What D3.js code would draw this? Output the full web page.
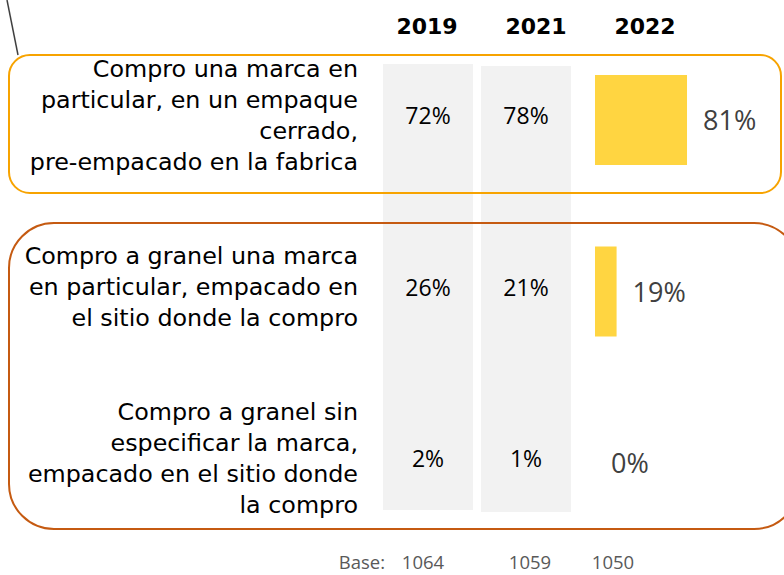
<!DOCTYPE html>
<html>
<head>
<meta charset="utf-8">
<script src="https://cdn.jsdelivr.net/npm/d3@7"></script>
<style>
  body { margin: 0; background: #fff; }
  svg { display: block; }
</style>
</head>
<body>
<div class="plot"></div>
<script>
const W = 784, H = 575;

// Data
const years = ["2019", "2021", "2022"];
const rows = ["marca_empaque", "granel_marca", "granel_sin_marca"];
const rowLines = [
    ["Compro una marca en", "particular, en un empaque", "cerrado,", "pre-empacado en la fabrica"],
    ["Compro a granel una marca", "en particular, empacado en", "el sitio donde la compro"],
    ["Compro a granel sin", "especificar la marca,", "empacado en el sitio donde", "la compro"]
];
const values2019 = [72, 26, 2];
const values2021 = [78, 21, 1];
const values2022 = [81, 19, 0];
const bases = [1064, 1059, 1050];

const svg = d3.select(".plot")
    .append("svg")
        .attr("width", W)
        .attr("height", H);

// Scales
const y = d3.scalePoint()
    .domain(rows)
    .range([120, 463]);

// columns 90px wide, 8px gap
const col = d3.scaleBand()
    .domain(years)
    .range([383, 669])
    .paddingInner(8 / 98);

const header = d3.scalePoint()
    .domain(years)
    .range([427, 645]);

const baseX = d3.scaleOrdinal()
    .domain(years)
    .range([423, 530, 613]);

const barX0 = 595;
const barW = d3.scaleLinear()
    .domain([0, 100])
    .range([0, 113.6]);

const labelFont = "'DejaVu Sans', sans-serif";
const numFont = "'Open Sans', sans-serif";

// Gray background columns for 2019 / 2021
svg.selectAll("rect.colbg")
    .data(years.slice(0, 2))
    .enter()
    .append("rect")
        .attr("class", "colbg")
        .attr("x", d => col(d))
        .attr("y", (d, i) => 64 + i * 2)
        .attr("width", col.bandwidth())
        .attr("height", 446)
        .attr("fill", "#f2f2f2");

// Year headers
svg.selectAll("text.year")
    .data(years)
    .enter()
    .append("text")
        .attr("class", "year")
        .attr("x", d => header(d))
        .attr("y", 34)
        .attr("text-anchor", "middle")
        .style("font-family", labelFont)
        .style("font-weight", "bold")
        .style("font-size", "22px")
        .style("fill", "#000")
        .text(d => d);

// Row labels (right aligned, multi-line)
const lineH = 31;
rows.forEach((r, i) => {
    const lines = rowLines[i];
    const t = svg.append("text")
        .attr("text-anchor", "end")
        .style("font-family", labelFont)
        .style("font-size", "23.8px")
        .style("fill", "#000");
    lines.forEach((ln, j) => {
        t.append("tspan")
            .attr("x", 358)
            .attr("y", y(r) + (j - (lines.length - 1) / 2) * lineH + 3)
            .text(ln);
    });
});

// Column values 2019 / 2021
[values2019, values2021].forEach((vals, k) => {
    svg.selectAll("text.v" + k)
        .data(vals)
        .enter()
        .append("text")
            .attr("class", "v" + k)
            .attr("x", col(years[k]) + col.bandwidth() / 2)
            .attr("y", (d, i) => y(rows[i]) + 4)
            .attr("text-anchor", "middle")
            .style("font-family", numFont)
            .style("font-size", "23px")
            .style("fill", "#000")
            .text(d => d + "%");
});

// 2022 bars
svg.selectAll("rect.bar")
    .data(values2022)
    .enter()
    .append("rect")
        .attr("class", "bar")
        .attr("x", barX0)
        .attr("y", (d, i) => y(rows[i]) - 45)
        .attr("width", d => barW(d))
        .attr("height", 90)
        .attr("fill", "#ffd541");

svg.selectAll("text.bar-label")
    .data(values2022)
    .enter()
    .append("text")
        .attr("class", "bar-label")
        .attr("x", d => barX0 + barW(d) + 16)
        .attr("y", (d, i) => y(rows[i]) + 10)
        .style("font-family", numFont)
        .style("font-size", "27px")
        .style("fill", "#404040")
        .text(d => d + "%");

// Base row
svg.append("text")
    .attr("x", 385)
    .attr("y", 569)
    .attr("text-anchor", "end")
    .style("font-family", numFont)
    .style("font-size", "18.5px")
    .style("fill", "#595959")
    .text("Base:");

svg.selectAll("text.base")
    .data(bases)
    .enter()
    .append("text")
        .attr("class", "base")
        .attr("x", (d, i) => baseX(years[i]))
        .attr("y", 569)
        .attr("text-anchor", "middle")
        .style("font-family", numFont)
        .style("font-size", "18.5px")
        .style("fill", "#595959")
        .text(d => d);

// Highlight boxes
svg.append("rect")
    .attr("x", 9)
    .attr("y", 55)
    .attr("width", 772)
    .attr("height", 138)
    .attr("rx", 21)
    .attr("fill", "none")
    .attr("stroke", "#f7a300")
    .attr("stroke-width", 2);

svg.append("rect")
    .attr("x", 9)
    .attr("y", 223)
    .attr("width", 790)
    .attr("height", 306)
    .attr("rx", 45)
    .attr("fill", "none")
    .attr("stroke", "#c55a11")
    .attr("stroke-width", 2);

// Callout pointer line
svg.append("line")
    .attr("x1", 7)
    .attr("y1", 0)
    .attr("x2", 18)
    .attr("y2", 55)
    .attr("stroke", "#404040")
    .attr("stroke-width", 1.5);
</script>
</body>
</html>
